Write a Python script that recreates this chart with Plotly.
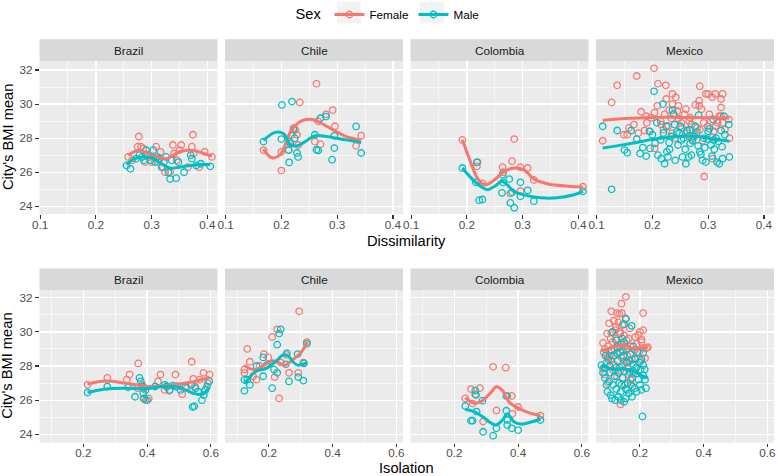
import plotly.graph_objects as go

W, H = 778, 476
FEMALE = '#F8766D'
MALE = '#00BFC4'
FONT = 'Liberation Sans, Arial, sans-serif'

COUNTRIES = ['Brazil', 'Chile', 'Colombia', 'Mexico']
X_TITLES = ['Dissimilarity', 'Isolation']
Y_TITLE = "City's BMI mean"
SEXES = ['Female', 'Male']
Y_TICKS = [24, 26, 28, 30, 32]
X_TICKS_DIS = [0.1, 0.2, 0.3, 0.4]
X_TICKS_ISO = [0.2, 0.4, 0.6]

# ---------------- Dissimilarity row: (x, BMI) ----------------
BRA_DIS_F = [(0.258, 26.9), (0.265, 26.7), (0.275, 27.5), (0.277, 28.1), (0.281, 27.5), (0.285, 27.4),
             (0.288, 26.6), (0.292, 27.0), (0.296, 26.9), (0.300, 26.6), (0.308, 27.5), (0.312, 26.6),
             (0.316, 27.2), (0.320, 26.3), (0.324, 26.0), (0.333, 26.0), (0.338, 27.6), (0.340, 27.1),
             (0.345, 26.7), (0.350, 27.3), (0.353, 27.6), (0.365, 26.3), (0.372, 27.5), (0.374, 28.2),
             (0.375, 27.1), (0.385, 26.3), (0.395, 27.2), (0.408, 26.9)]
BRA_DIS_M = [(0.255, 26.4), (0.262, 26.2), (0.272, 26.8), (0.278, 27.0), (0.283, 26.9), (0.290, 27.3),
             (0.291, 27.0), (0.298, 26.7), (0.303, 27.3), (0.306, 26.6), (0.310, 26.9), (0.314, 26.8),
             (0.318, 26.3), (0.322, 26.6), (0.330, 26.0), (0.333, 25.6), (0.336, 26.7), (0.344, 25.65),
             (0.348, 26.6), (0.358, 26.0), (0.370, 27.0), (0.372, 26.8), (0.380, 26.4), (0.388, 26.5),
             (0.405, 26.35), (0.326, 26.9), (0.286, 26.7)]
CHL_DIS_F = [(0.168, 27.3), (0.200, 26.1), (0.200, 27.2), (0.213, 27.3), (0.214, 27.8), (0.219, 28.2),
             (0.222, 28.6), (0.228, 28.2), (0.230, 27.6), (0.233, 30.1), (0.260, 27.8), (0.263, 31.2),
             (0.266, 29.0), (0.270, 27.65), (0.280, 29.4), (0.292, 29.65), (0.296, 28.7), (0.334, 27.55),
             (0.343, 28.15), (0.225, 28.5)]
CHL_DIS_M = [(0.168, 27.8), (0.201, 29.95), (0.219, 30.15), (0.200, 27.95), (0.213, 27.3), (0.214, 26.58),
             (0.222, 28.5), (0.224, 28.0), (0.228, 27.13), (0.230, 26.9), (0.260, 28.2), (0.263, 27.32),
             (0.266, 27.28), (0.270, 29.17), (0.280, 29.27), (0.295, 28.14), (0.295, 27.42), (0.291, 26.74),
             (0.334, 28.69), (0.343, 27.13), (0.216, 27.7)]
COL_DIS_F = [(0.192, 27.9), (0.218, 26.35), (0.219, 26.6), (0.228, 25.35), (0.264, 26.3), (0.265, 26.0),
             (0.281, 26.65), (0.285, 27.95), (0.296, 26.3), (0.309, 26.25), (0.320, 25.55), (0.296, 24.9),
             (0.278, 24.75), (0.408, 25.15)]
COL_DIS_M = [(0.192, 26.25), (0.218, 26.58), (0.216, 25.41), (0.222, 24.36), (0.228, 24.4), (0.264, 25.86),
             (0.276, 25.6), (0.265, 25.41), (0.296, 25.41), (0.263, 24.79), (0.281, 24.83), (0.309, 24.94),
             (0.278, 24.2), (0.285, 23.91), (0.296, 24.59), (0.320, 24.3), (0.408, 24.88)]
MEX_DIS_F = [(0.111, 27.85), (0.127, 30.1), (0.137, 31.1), (0.149, 28.2), (0.155, 28.2), (0.167, 28.8),
             (0.172, 31.65), (0.180, 29.55), (0.186, 28.45), (0.189, 29.3), (0.195, 28.4), (0.203, 32.1),
             (0.204, 29.5), (0.204, 27.4), (0.209, 29.9), (0.210, 31.2), (0.216, 28.8), (0.222, 29.4),
             (0.224, 31.1), (0.225, 30.3), (0.230, 29.65), (0.234, 29.15), (0.236, 30.6), (0.236, 30.0),
             (0.241, 28.0), (0.242, 30.4), (0.247, 29.9), (0.247, 29.15), (0.252, 28.9), (0.253, 28.6),
             (0.258, 29.4), (0.262, 28.3), (0.266, 29.0), (0.268, 29.2), (0.271, 27.95), (0.276, 28.2),
             (0.277, 29.95), (0.280, 28.6), (0.284, 29.9), (0.284, 30.2), (0.285, 31.05), (0.288, 29.7),
             (0.290, 27.85), (0.293, 25.75), (0.296, 30.6), (0.299, 28.7), (0.300, 30.6), (0.302, 29.4),
             (0.305, 29.0), (0.307, 30.4), (0.308, 28.05), (0.308, 26.8), (0.310, 28.4), (0.313, 30.6),
             (0.314, 28.7), (0.317, 28.9), (0.320, 29.3), (0.323, 30.3), (0.323, 29.8), (0.323, 29.3),
             (0.326, 30.6), (0.326, 28.9), (0.330, 28.5), (0.337, 29.1), (0.338, 28.0), (0.215, 29.0),
             (0.220, 28.5), (0.228, 28.7), (0.235, 28.3), (0.260, 29.7), (0.270, 28.8), (0.190, 28.9),
             (0.198, 29.2), (0.292, 28.9), (0.285, 28.5), (0.245, 29.6), (0.265, 28.1), (0.158, 28.6),
             (0.175, 28.3)]
MEX_DIS_M = [(0.111, 28.7), (0.127, 25.0), (0.137, 28.45), (0.150, 27.3), (0.155, 27.15), (0.162, 28.45),
             (0.172, 27.95), (0.178, 27.1), (0.183, 27.45), (0.189, 26.95), (0.195, 28.4), (0.200, 28.2),
             (0.203, 30.75), (0.205, 27.7), (0.210, 27.0), (0.216, 26.8), (0.219, 30.0), (0.222, 26.5),
             (0.225, 28.7), (0.226, 27.2), (0.228, 26.9), (0.231, 27.35), (0.234, 28.1), (0.236, 29.65),
             (0.238, 29.4), (0.240, 28.8), (0.241, 26.7), (0.244, 28.35), (0.246, 27.6), (0.250, 28.7),
             (0.252, 27.9), (0.254, 26.9), (0.256, 28.0), (0.259, 27.35), (0.262, 28.45), (0.265, 26.9),
             (0.268, 27.7), (0.272, 27.85), (0.275, 28.1), (0.277, 28.7), (0.280, 28.35), (0.283, 29.35),
             (0.285, 27.2), (0.287, 27.05), (0.290, 26.7), (0.292, 28.0), (0.294, 27.45), (0.298, 27.95),
             (0.300, 28.4), (0.302, 28.55), (0.305, 27.6), (0.307, 26.95), (0.309, 29.1), (0.311, 27.35),
             (0.314, 28.0), (0.318, 27.8), (0.320, 26.5), (0.323, 28.45), (0.325, 27.5), (0.326, 26.8),
             (0.328, 29.3), (0.330, 28.2), (0.337, 28.8), (0.338, 26.9), (0.215, 27.9), (0.220, 28.3),
             (0.230, 27.75), (0.248, 28.3), (0.260, 26.5), (0.270, 27.0), (0.282, 27.55), (0.296, 26.6),
             (0.310, 27.9), (0.196, 27.4), (0.208, 28.9), (0.267, 28.5), (0.316, 26.6)]

# ---------------- Isolation row: (x, BMI) ----------------
BRA_ISO_F = [(0.213, 26.9), (0.275, 27.3), (0.336, 27.2), (0.345, 27.5), (0.372, 28.15), (0.370, 26.7),
             (0.385, 26.9), (0.389, 26.1), (0.395, 26.0), (0.405, 26.1), (0.392, 26.7), (0.434, 27.1),
             (0.442, 27.5), (0.455, 26.6), (0.463, 26.8), (0.470, 26.55), (0.489, 27.5), (0.495, 26.8),
             (0.510, 26.35), (0.525, 26.7), (0.540, 28.25), (0.545, 27.25), (0.550, 26.8), (0.565, 27.2),
             (0.577, 27.6), (0.582, 26.6), (0.590, 27.0), (0.596, 27.5)]
BRA_ISO_M = [(0.213, 26.45), (0.275, 26.8), (0.340, 26.75), (0.362, 26.2), (0.376, 27.3), (0.380, 27.1),
             (0.385, 26.8), (0.388, 26.4), (0.390, 26.1), (0.395, 26.6), (0.400, 26.0), (0.425, 26.8),
             (0.455, 26.9), (0.460, 26.8), (0.470, 26.6), (0.480, 26.85), (0.490, 26.8), (0.505, 26.6),
             (0.520, 26.75), (0.540, 26.9), (0.543, 25.6), (0.548, 25.65), (0.552, 26.7), (0.560, 26.5),
             (0.572, 26.0), (0.578, 26.3), (0.583, 26.6), (0.588, 26.8), (0.595, 27.1)]
CHL_ISO_F = [(0.295, 31.2), (0.226, 30.15), (0.210, 29.7), (0.132, 29.0), (0.184, 28.7), (0.140, 28.25),
             (0.123, 27.8), (0.123, 27.6), (0.161, 27.2), (0.218, 27.35), (0.237, 28.2), (0.263, 27.6),
             (0.292, 27.6), (0.232, 26.1), (0.308, 28.2), (0.319, 29.4), (0.150, 27.4), (0.170, 28.0),
             (0.198, 28.5), (0.255, 28.65)]
CHL_ISO_M = [(0.237, 30.15), (0.232, 29.9), (0.226, 29.25), (0.123, 26.55), (0.123, 27.2), (0.140, 26.9),
             (0.132, 27.2), (0.161, 28.0), (0.182, 28.5), (0.193, 28.05), (0.182, 27.4), (0.210, 26.7),
             (0.216, 27.8), (0.226, 27.6), (0.253, 28.1), (0.256, 28.75), (0.263, 27.1), (0.290, 28.7),
             (0.292, 27.35), (0.308, 27.15), (0.319, 29.3), (0.310, 28.15)]
COL_ISO_F = [(0.3215, 27.95), (0.361, 27.9), (0.252, 26.65), (0.280, 26.7), (0.234, 26.1), (0.265, 26.35),
             (0.257, 25.8), (0.290, 24.75), (0.332, 25.4), (0.366, 26.25), (0.380, 26.25), (0.400, 25.6),
             (0.382, 25.2), (0.470, 25.1)]
COL_ISO_M = [(0.234, 25.66), (0.2654, 26.56), (0.2676, 26.3), (0.288, 25.97), (0.252, 24.8), (0.257, 24.8),
             (0.2695, 25.33), (0.290, 24.15), (0.3215, 23.92), (0.3318, 24.35), (0.363, 26.24), (0.363, 25.38),
             (0.366, 24.84), (0.366, 24.55), (0.380, 24.35), (0.400, 24.25), (0.470, 24.84)]
MEX_ISO_F = [(0.156, 32.05), (0.142, 31.65), (0.110, 31.2), (0.128, 31.1), (0.135, 31.05), (0.210, 31.1),
             (0.103, 30.5), (0.118, 30.65), (0.132, 30.55), (0.124, 30.3), (0.145, 30.4), (0.097, 29.9),
             (0.110, 29.95), (0.137, 30.0), (0.200, 30.0), (0.210, 30.1), (0.195, 29.8), (0.205, 29.55),
             (0.084, 29.35), (0.090, 29.0), (0.086, 28.8), (0.100, 29.15), (0.114, 29.4), (0.142, 29.35),
             (0.153, 29.15), (0.170, 29.15), (0.190, 29.3), (0.210, 29.05), (0.221, 29.05), (0.184, 28.95),
             (0.216, 28.45), (0.202, 28.3), (0.084, 27.85), (0.110, 28.35), (0.153, 28.3), (0.139, 27.75),
             (0.179, 27.55), (0.177, 26.8), (0.139, 25.75), (0.116, 27.75), (0.158, 29.5), (0.120, 29.0),
             (0.130, 28.7), (0.148, 28.9), (0.160, 28.6), (0.165, 29.6), (0.175, 28.4), (0.125, 29.6),
             (0.105, 28.6), (0.095, 28.2), (0.138, 29.9), (0.150, 29.8), (0.168, 30.2), (0.185, 29.7),
             (0.198, 28.8), (0.118, 28.1), (0.128, 27.4), (0.145, 28.0), (0.160, 27.9), (0.170, 27.2),
             (0.090, 27.5), (0.100, 27.0), (0.112, 28.9), (0.155, 30.8), (0.132, 29.2), (0.142, 28.5),
             (0.162, 28.2), (0.190, 27.9), (0.205, 29.4), (0.225, 29.1), (0.098, 28.5), (0.108, 29.6),
             (0.122, 30.1), (0.152, 26.9), (0.165, 27.5), (0.185, 28.4), (0.143, 31.1)]
MEX_ISO_M = [(0.156, 30.75), (0.150, 30.45), (0.174, 30.35), (0.114, 30.0), (0.126, 29.5), (0.150, 29.4),
             (0.110, 28.95), (0.128, 28.75), (0.179, 29.15), (0.192, 28.8), (0.210, 28.75), (0.205, 28.4),
             (0.210, 28.05), (0.079, 28.05), (0.084, 27.6), (0.105, 28.0), (0.137, 27.9), (0.168, 27.65),
             (0.187, 27.55), (0.210, 27.45), (0.216, 27.2), (0.095, 26.9), (0.103, 27.1), (0.126, 26.65),
             (0.156, 26.65), (0.132, 26.2), (0.219, 26.7), (0.208, 25.05), (0.090, 27.3), (0.098, 26.5),
             (0.108, 26.3), (0.115, 26.9), (0.120, 27.4), (0.125, 27.9), (0.130, 28.3), (0.135, 27.0),
             (0.140, 26.5), (0.145, 27.3), (0.148, 28.6), (0.152, 27.7), (0.158, 28.2), (0.162, 27.0),
             (0.165, 26.4), (0.170, 28.7), (0.172, 26.9), (0.176, 27.3), (0.180, 28.1), (0.183, 26.7),
             (0.188, 27.9), (0.195, 27.2), (0.200, 26.9), (0.202, 27.8), (0.118, 28.6), (0.100, 28.4),
             (0.088, 27.9), (0.112, 26.1), (0.138, 28.8), (0.145, 29.6), (0.160, 29.0), (0.142, 26.9),
             (0.122, 26.0), (0.132, 27.6), (0.155, 26.1), (0.168, 28.3), (0.178, 27.7), (0.190, 26.5),
             (0.204, 26.6), (0.215, 27.8), (0.092, 28.6), (0.106, 27.6), (0.128, 29.1), (0.160, 26.6),
             (0.185, 28.4), (0.198, 28.2), (0.140, 26.0), (0.150, 25.9), (0.175, 26.2)]

# ---------------- Smoothed (loess) curves ----------------
BRA_DIS_F_FIT = [(0.258, 27.0), (0.275, 27.28), (0.290, 27.15), (0.308, 26.93), (0.326, 26.8),
                 (0.350, 27.2), (0.374, 27.28), (0.398, 27.05), (0.408, 26.95)]
BRA_DIS_M_FIT = [(0.255, 26.45), (0.270, 26.8), (0.285, 26.9), (0.300, 26.85), (0.315, 26.55),
                 (0.332, 26.25), (0.350, 26.3), (0.370, 26.4), (0.390, 26.45), (0.405, 26.45)]
CHL_DIS_F_FIT = [(0.168, 27.36), (0.183, 26.85), (0.198, 27.03), (0.217, 28.4), (0.235, 29.0),
                 (0.255, 29.1), (0.267, 28.95), (0.292, 28.5), (0.316, 28.1), (0.343, 27.87)]
CHL_DIS_M_FIT = [(0.168, 27.87), (0.189, 28.34), (0.204, 28.26), (0.217, 27.6), (0.229, 27.56),
                 (0.261, 28.14), (0.280, 28.1), (0.316, 27.9), (0.343, 27.75)]
COL_DIS_F_FIT = [(0.192, 27.91), (0.205, 26.74), (0.217, 25.76), (0.226, 25.37), (0.235, 25.27),
                 (0.250, 25.57), (0.265, 26.0), (0.284, 26.25), (0.302, 26.15), (0.320, 25.6),
                 (0.344, 25.33), (0.381, 25.18), (0.408, 25.14)]
COL_DIS_M_FIT = [(0.192, 26.25), (0.205, 25.76), (0.217, 25.37), (0.229, 25.08), (0.238, 24.98),
                 (0.250, 25.18), (0.263, 25.47), (0.272, 25.27), (0.284, 24.88), (0.308, 24.63),
                 (0.332, 24.5), (0.362, 24.5), (0.392, 24.68), (0.408, 24.88)]
MEX_DIS_F_FIT = [(0.111, 29.05), (0.150, 29.15), (0.200, 29.22), (0.250, 29.22), (0.300, 29.2), (0.338, 29.18)]
MEX_DIS_M_FIT = [(0.111, 27.42), (0.155, 27.65), (0.204, 27.95), (0.241, 28.08), (0.277, 28.12),
                 (0.310, 27.95), (0.338, 27.82)]
BRA_ISO_F_FIT = [(0.213, 26.95), (0.270, 27.12), (0.330, 27.0), (0.380, 26.85), (0.420, 26.8),
                 (0.460, 26.85), (0.500, 26.95), (0.550, 27.1), (0.596, 27.35)]
BRA_ISO_M_FIT = [(0.213, 26.45), (0.270, 26.65), (0.330, 26.7), (0.400, 26.68), (0.450, 26.8),
                 (0.490, 26.78), (0.520, 26.6), (0.550, 26.38), (0.575, 26.35), (0.595, 26.75)]
CHL_ISO_F_FIT = [(0.123, 28.05), (0.140, 27.85), (0.160, 27.8), (0.185, 28.05), (0.210, 28.3),
                 (0.230, 28.2), (0.250, 28.05), (0.270, 28.3), (0.290, 28.6), (0.305, 28.9), (0.320, 29.4)]
CHL_ISO_M_FIT = [(0.123, 26.95), (0.140, 27.35), (0.160, 27.7), (0.190, 27.85), (0.220, 28.25),
                 (0.245, 28.65), (0.260, 28.6), (0.275, 28.25), (0.290, 28.05), (0.305, 28.1), (0.320, 28.2)]
COL_ISO_F_FIT = [(0.234, 26.15), (0.262, 25.82), (0.288, 25.97), (0.314, 26.44), (0.332, 26.79),
                 (0.351, 26.56), (0.371, 25.91), (0.402, 25.52), (0.433, 25.27), (0.470, 25.1)]
COL_ISO_M_FIT = [(0.234, 25.47), (0.262, 25.33), (0.288, 25.04), (0.309, 24.74), (0.330, 24.55),
                 (0.351, 24.84), (0.366, 25.2), (0.387, 24.74), (0.408, 24.6), (0.444, 24.74), (0.470, 24.88)]
MEX_ISO_F_FIT = [(0.079, 28.9), (0.100, 29.0), (0.120, 29.15), (0.140, 29.2), (0.160, 29.15),
                 (0.180, 29.0), (0.200, 29.05), (0.225, 29.1)]
MEX_ISO_M_FIT = [(0.079, 28.0), (0.100, 27.9), (0.120, 27.8), (0.140, 27.85), (0.160, 27.8),
                 (0.180, 27.7), (0.200, 27.5), (0.225, 27.3)]

# ---------------- tables built from the lists ----------------
POINTS = [
    [(BRA_DIS_F, BRA_DIS_M), (CHL_DIS_F, CHL_DIS_M), (COL_DIS_F, COL_DIS_M), (MEX_DIS_F, MEX_DIS_M)],
    [(BRA_ISO_F, BRA_ISO_M), (CHL_ISO_F, CHL_ISO_M), (COL_ISO_F, COL_ISO_M), (MEX_ISO_F, MEX_ISO_M)],
]
FITS = [
    [(BRA_DIS_F_FIT, BRA_DIS_M_FIT), (CHL_DIS_F_FIT, CHL_DIS_M_FIT), (COL_DIS_F_FIT, COL_DIS_M_FIT),
     (MEX_DIS_F_FIT, MEX_DIS_M_FIT)],
    [(BRA_ISO_F_FIT, BRA_ISO_M_FIT), (CHL_ISO_F_FIT, CHL_ISO_M_FIT), (COL_ISO_F_FIT, COL_ISO_M_FIT),
     (MEX_ISO_F_FIT, MEX_ISO_M_FIT)],
]

# ---------------- layout geometry (pixels) ----------------
COL_LEFT = [39.5, 225.0, 410.5, 596.0]
PANEL_W = 178.0
ROW_GEOM = [
    dict(strip_top=39.3, top=61.0, bottom=214.0, title_y=241.0, xr=[0.099, 0.418], yr=[23.55, 32.53],
         xticks=X_TICKS_DIS, xminor=0.05),
    dict(strip_top=268.5, top=290.0, bottom=442.7, title_y=467.5, xr=[0.062, 0.621], yr=[23.51, 32.45],
         xticks=X_TICKS_ISO, xminor=0.1),
]
LEGEND_KEYS = [(337.0, 361.0), (420.0, 444.0)]
LEGEND_KEY_Y = (1.7, 23.3)


def px(x):
    return x / W


def py(y):
    return 1 - y / H


fig = go.Figure()
layout = {}
shapes = []
annotations = []
colors = [FEMALE, MALE]

for r, g in enumerate(ROW_GEOM):
    for c, country in enumerate(COUNTRIES):
        idx = r * 4 + c + 1
        xa = 'x' if idx == 1 else f'x{idx}'
        ya = 'y' if idx == 1 else f'y{idx}'
        xkey = 'xaxis' if idx == 1 else f'xaxis{idx}'
        ykey = 'yaxis' if idx == 1 else f'yaxis{idx}'
        left = COL_LEFT[c]
        layout[xkey] = dict(
            domain=[px(left), px(left + PANEL_W)], anchor=ya, range=g['xr'],
            tickvals=g['xticks'], ticktext=[f'{v:g}' for v in g['xticks']],
            showgrid=True, gridcolor='white', gridwidth=1.3, zeroline=False,
            ticks='outside', ticklen=3.7, tickwidth=1.1, tickcolor='#333333',
            ticklabelstandoff=-4,
            tickfont=dict(family=FONT, size=11.7, color='#4D4D4D'),
            minor=dict(dtick=g['xminor'], tick0=0, showgrid=True, gridcolor='white', gridwidth=0.6, ticks=''),
            showline=False, fixedrange=True,
        )
        first = (c == 0)
        layout[ykey] = dict(
            domain=[py(g['bottom']), py(g['top'])], anchor=xa, range=g['yr'],
            tickvals=Y_TICKS, showticklabels=first, ticks='outside' if first else '',
            ticklen=3.7, tickwidth=1.1, tickcolor='#333333',
            tickfont=dict(family=FONT, size=11.7, color='#4D4D4D'),
            showgrid=True, gridcolor='white', gridwidth=1.3, zeroline=False,
            minor=dict(dtick=1, tick0=0, showgrid=True, gridcolor='white', gridwidth=0.6, ticks=''),
            showline=False, fixedrange=True,
        )
        # strip
        shapes.append(dict(type='rect', xref='paper', yref='paper', x0=px(left), x1=px(left + PANEL_W),
                           y0=py(g['top']), y1=py(g['strip_top']), fillcolor='#D9D9D9', line=dict(width=0),
                           layer='below'))
        annotations.append(dict(xref='paper', yref='paper', x=px(left + PANEL_W / 2),
                                y=py((g['top'] + g['strip_top']) / 2), text=country, showarrow=False,
                                xanchor='center', yanchor='middle',
                                font=dict(family=FONT, size=11.7, color='#1A1A1A')))
        for s in range(2):
            pts = POINTS[r][c][s]
            fig.add_trace(go.Scatter(
                x=[p[0] for p in pts], y=[p[1] for p in pts], xaxis=xa, yaxis=ya, mode='markers',
                marker=dict(symbol='circle-open', size=6.5, color=colors[s], line=dict(width=1.3, color=colors[s])),
                showlegend=False, hoverinfo='skip'))
        for s in range(2):
            fit = FITS[r][c][s]
            fig.add_trace(go.Scatter(
                x=[p[0] for p in fit], y=[p[1] for p in fit], xaxis=xa, yaxis=ya, mode='lines',
                line=dict(color=colors[s], width=3, shape='spline', smoothing=1.0),
                showlegend=False, hoverinfo='skip'))
    # axis titles
    annotations.append(dict(xref='paper', yref='paper', x=px((COL_LEFT[0] + COL_LEFT[3] + PANEL_W) / 2),
                            y=py(g['title_y']), text=X_TITLES[r], showarrow=False, xanchor='center',
                            yanchor='middle', font=dict(family=FONT, size=14.7, color='black')))
    annotations.append(dict(xref='paper', yref='paper', x=px(7.5), y=py((g['top'] + g['bottom']) / 2),
                            text=Y_TITLE, textangle=-90, showarrow=False, xanchor='center', yanchor='middle',
                            font=dict(family=FONT, size=14.7, color='black')))

# grey legend key backgrounds
for k0, k1 in LEGEND_KEYS:
    shapes.append(dict(type='rect', xref='paper', yref='paper', x0=px(k0), x1=px(k1),
                       y0=py(LEGEND_KEY_Y[1]), y1=py(LEGEND_KEY_Y[0]), fillcolor='#F2F2F2',
                       line=dict(width=0), layer='below'))

# legend entries (no data, legend only)
for s, name in enumerate(SEXES):
    fig.add_trace(go.Scatter(x=[None], y=[None], mode='lines+markers', name=name,
                             line=dict(color=colors[s], width=3),
                             marker=dict(symbol='circle-open', size=6.5, color=colors[s],
                                         line=dict(width=1.3, color=colors[s]))))

fig.update_layout(
    width=W, height=H, margin=dict(l=0, r=0, t=0, b=0, autoexpand=False),
    paper_bgcolor='white', plot_bgcolor='#EBEBEB',
    font=dict(family=FONT, size=11.7, color='black'),
    shapes=shapes, annotations=annotations,
    legend=dict(orientation='h', x=0.5, xanchor='center', y=1.0, yanchor='top',
                title=dict(text='Sex', side='left', font=dict(family=FONT, size=14.7, color='black')),
                font=dict(family=FONT, size=11.7, color='black'), bgcolor='rgba(0,0,0,0)',
                itemclick=False, itemdoubleclick=False, tracegroupgap=0),
    **layout,
)

fig.write_html('out.html', config={'displayModeBar': False, 'staticPlot': True},
               post_script="document.body.style.margin='0';document.body.style.padding='0';")
